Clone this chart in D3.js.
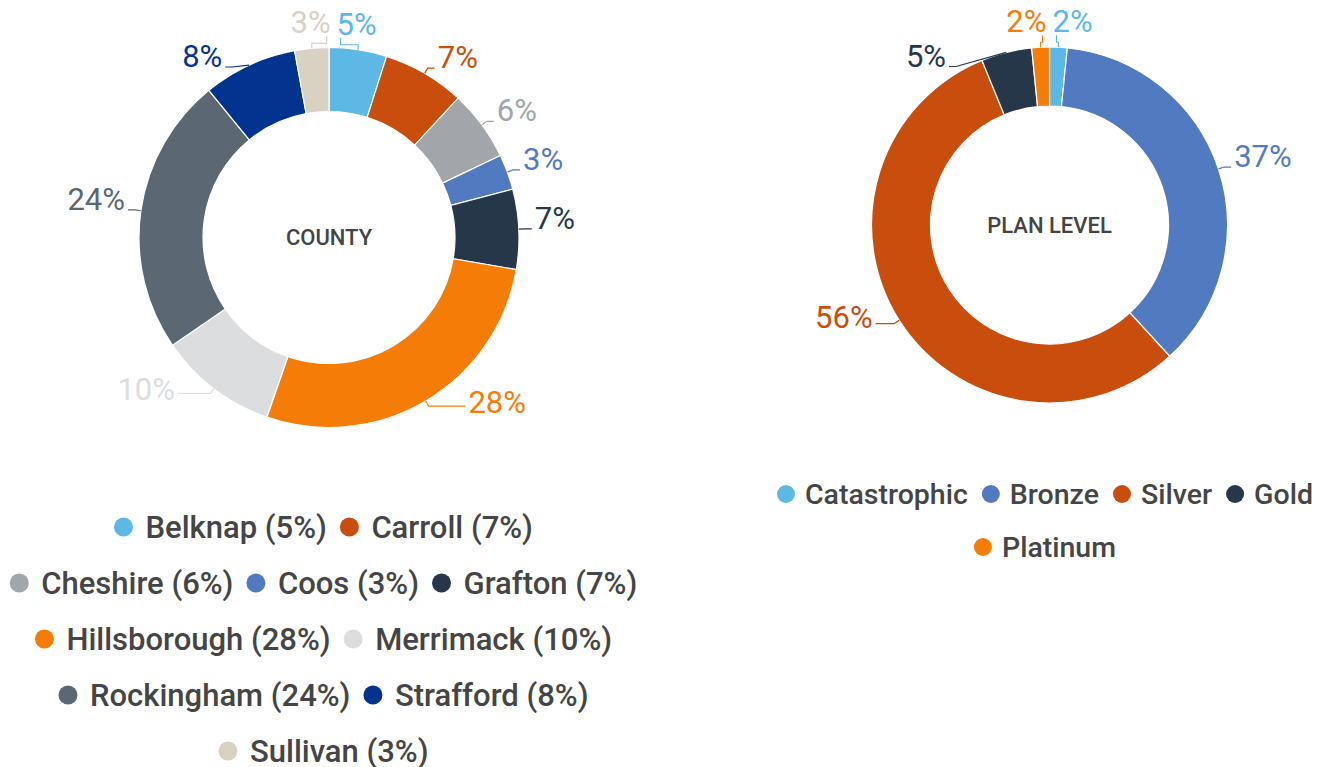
<!DOCTYPE html>
<html>
<head>
<meta charset="utf-8">
<script src="https://cdn.jsdelivr.net/npm/d3@7"></script>
<style>
  html, body { margin: 0; padding: 0; background: #ffffff; }
  svg { display: block; font-family: Roboto, "Noto Sans", sans-serif; }
</style>
</head>
<body>
<svg id="chart" width="1323" height="767"></svg>
<script>
// ---- Data ----
const countyNames  = ["Belknap", "Carroll", "Cheshire", "Coos", "Grafton", "Hillsborough", "Merrimack", "Rockingham", "Strafford", "Sullivan"];
const countyValues = [4.9, 7.0, 6.0, 3.0, 6.8, 27.6, 10.1, 23.7, 8.0, 2.9];
const countyColors = ["#5DB8E6", "#C94E0D", "#A2A6AA", "#527AC0", "#26374A", "#F57C06", "#DCDDDF", "#5B6772", "#02338F", "#D9D2C3"];
const countyTitle  = "COUNTY";

const planNames  = ["Catastrophic", "Bronze", "Silver", "Gold", "Platinum"];
const planValues = [1.6, 36.6, 55.6, 4.6, 1.6];
const planColors = ["#5DB8E6", "#527AC0", "#C94E0D", "#26374A", "#F57C06"];
const planTitle  = "PLAN LEVEL";

// ---- Layout ----
const svg = d3.select("#chart");
const LABEL_FS = 31;

function drawDonut(opt) {
  const { cx, cy, R, r, names, values, colors, title } = opt;
  const g = svg.append("g").attr("transform", `translate(${cx},${cy})`);
  const data = names.map((n, i) => ({ name: n, value: values[i], color: colors[i] }));
  const total = d3.sum(values);
  const pie = d3.pie().sort(null).value(d => d.value);
  const arc = d3.arc().innerRadius(r).outerRadius(R);
  const arcs = pie(data);

  g.selectAll("path.slice").data(arcs).join("path")
    .attr("class", "slice")
    .attr("d", arc)
    .attr("fill", d => d.data.color)
    .attr("stroke", "#ffffff")
    .attr("stroke-width", 1.2);

  g.append("text")
    .attr("x", 0).attr("y", 0)
    .attr("text-anchor", "middle")
    .attr("dy", "0.36em")
    .attr("font-size", 22)
    .attr("font-weight", 500)
    .attr("fill", "#444444")
    .text(title);

  const capH = LABEL_FS * 0.711;
  const rho = R + 6;
  const tg = g.append("g");
  const labels = arcs.map(a => {
    const ang = (a.startAngle + a.endAngle) / 2;
    const s = Math.sin(ang), c = -Math.cos(ang);
    const top = Math.abs(s) < 0.2;
    const E = [R * s, R * c];
    let P = [rho * s, rho * c];
    const sign = s >= 0 ? 1 : -1;
    const txt = Math.round(a.data.value / total * 100) + "%";
    const node = tg.append("text").attr("font-size", LABEL_FS).attr("fill", a.data.color).text(txt);
    const w = node.node().getComputedTextLength();
    const lab = { s, c, top, E, P, sign, txt, node, w, h: capH + 4, color: a.data.color };
    if (top) {
      // top/bottom labels sit just above/below the ring, nudged toward the axis
      lab.cx = P[0] * 0.75;
      lab.cy = P[1] + (c < 0 ? -20 : 20);
    } else {
      const down = Math.max(0, c);
      let cyT = P[1] - capH / 2 + 8 * down;
      const lim = R - 8.5;
      if (cyT < -lim || cyT > lim) {
        cyT = Math.max(-lim, Math.min(lim, cyT));
        const py = cyT + capH / 2 - 8 * down;
        P = [sign * Math.sqrt(Math.max(0, rho * rho - py * py)), py];
        lab.P = P;
      }
      lab.gap = 10 + 40 * down * down;
      const x0 = P[0] + sign * lab.gap;
      lab.cx = x0 + sign * w / 2;
      lab.cy = cyT;
    }
    return lab;
  });

  // collision resolve
  for (let it = 0; it < 50; it++) {
    let moved = false;
    for (let i = 0; i < labels.length; i++) {
      for (let j = i + 1; j < labels.length; j++) {
        const A = labels[i], B = labels[j];
        const ox = (A.w + B.w) / 2 + 6 - Math.abs(A.cx - B.cx);
        const oy = (A.h + B.h) / 2 + 2 - Math.abs(A.cy - B.cy);
        if (ox > 0 && oy > 0) {
          moved = true;
          if (A.top || B.top) {
            const d = A.cx < B.cx ? -1 : 1;
            A.cx += d * ox / 2; B.cx -= d * ox / 2;
          } else {
            const d = A.cy < B.cy ? -1 : 1;
            A.cy += d * oy / 2; B.cy -= d * oy / 2;
          }
        }
      }
    }
    if (!moved) break;
  }

  const line = d3.line();
  labels.forEach(l => {
    let pts;
    if (l.top) {
      l.node.attr("text-anchor", "middle").attr("x", l.cx).attr("y", l.cy + capH / 2);
      const yb = l.c < 0 ? l.cy + capH / 2 + 3 : l.cy - capH / 2 - 3;
      const ym = l.E[1] + (l.c < 0 ? -5 : 5);
      const lx = l.cx - l.sign * (l.w / 2 - 4);
      pts = [l.E, [l.E[0], ym], [lx, ym], [lx, yb]];
    } else {
      const x0 = l.cx - l.sign * l.w / 2;
      l.node.attr("text-anchor", l.sign > 0 ? "start" : "end").attr("x", x0).attr("y", l.cy + capH / 2);
      const endX = x0 - l.sign * 3;
      pts = [l.E, l.P, [endX, l.P[1]]];
    }
    tg.append("path")
      .attr("d", line(pts))
      .attr("fill", "none")
      .attr("stroke", l.color)
      .attr("stroke-width", 1.2);
  });
}

function drawLegend(opt) {
  const { cx, y0, maxW, rowH, fs, rad, gapText, gapItem, names, colors, suffixes } = opt;
  const g = svg.append("g");
  const items = names.map((n, i) => {
    const t = g.append("text")
      .attr("font-size", fs)
      .attr("font-weight", 500)
      .attr("fill", "#454545")
      .text(n + (suffixes ? suffixes[i] : ""));
    return { t, w: t.node().getComputedTextLength(), color: colors[i] };
  });
  const rows = [];
  let cur = [], curW = 0;
  items.forEach(it => {
    const iw = 2 * rad + (gapText - rad) + it.w;
    const add = cur.length ? gapItem + iw : iw;
    if (cur.length && curW + add > maxW) { rows.push({ items: cur, w: curW }); cur = []; curW = 0; }
    curW += cur.length ? gapItem + iw : iw;
    cur.push(it);
  });
  if (cur.length) rows.push({ items: cur, w: curW });
  rows.forEach((row, ri) => {
    const y = y0 + ri * rowH;
    let x = cx - row.w / 2;
    row.items.forEach((it, k) => {
      if (k > 0) x += gapItem;
      const ccx = x + rad;
      g.append("circle").attr("cx", ccx).attr("cy", y).attr("r", rad).attr("fill", it.color);
      it.t.attr("x", ccx + gapText).attr("y", y + fs * 0.355);
      x = ccx + gapText + it.w;
    });
  });
}

drawDonut({ cx: 329, cy: 237.5, R: 190, r: 126, names: countyNames, values: countyValues, colors: countyColors, title: countyTitle });
drawDonut({ cx: 1049.5, cy: 225, R: 178, r: 119, names: planNames, values: planValues, colors: planColors, title: planTitle });

const countyTotal = d3.sum(countyValues);
drawLegend({ cx: 323.5, y0: 527, maxW: 647, rowH: 56, fs: 31, rad: 9.5, gapText: 22, gapItem: 13,
  names: countyNames, colors: countyColors,
  suffixes: countyValues.map(v => " (" + Math.round(v / countyTotal * 100) + "%)") });
drawLegend({ cx: 1045, y0: 494, maxW: 556, rowH: 53, fs: 28.5, rad: 9, gapText: 19, gapItem: 14,
  names: planNames, colors: planColors, suffixes: null });
</script>
</body>
</html>
